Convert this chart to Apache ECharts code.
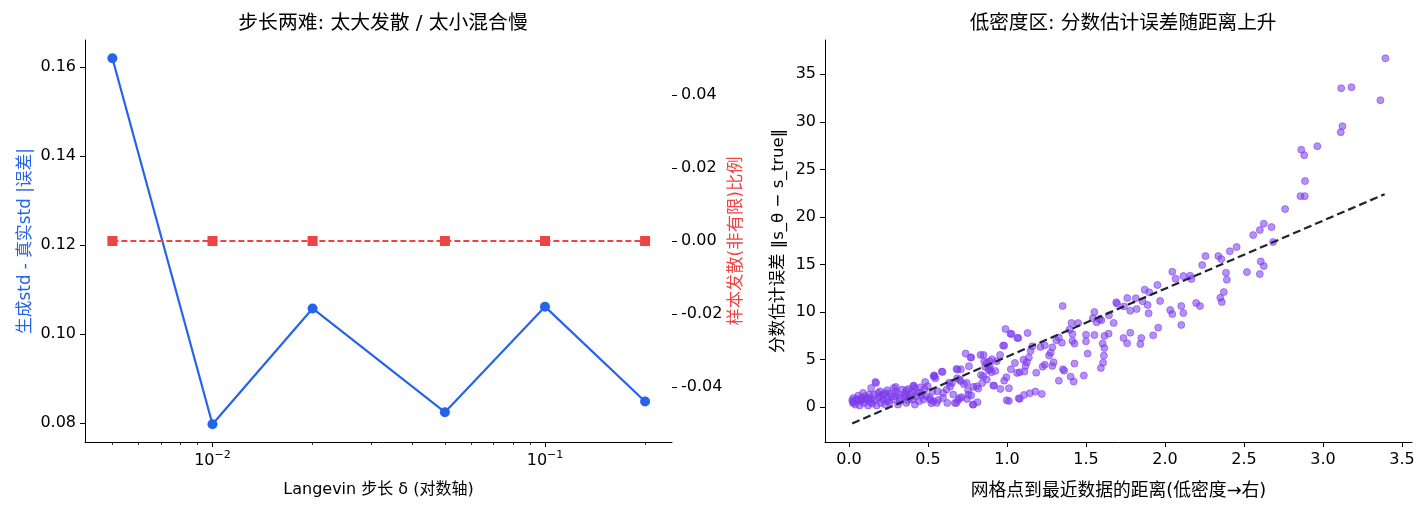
<!DOCTYPE html>
<html>
<head>
<meta charset="utf-8">
<script src="https://cdn.jsdelivr.net/npm/echarts@6/dist/echarts.min.js"></script>
<style>
  html, body { margin: 0; padding: 0; background: #fff; }
  #main { width: 1423px; height: 512px; }
</style>
</head>
<body>
<div id="main"></div>
<script>
var chart = echarts.init(document.getElementById('main'));

// 左图: Langevin 步长
var stepSizes = [0.005, 0.01, 0.02, 0.05, 0.1, 0.2];
var stdError = [0.162, 0.0798, 0.1058, 0.0825, 0.1062, 0.0849];
var divergeRatio = [0, 0, 0, 0, 0, 0];
var leftTicks = [0.08, 0.10, 0.12, 0.14, 0.16];
var rightTicks = [-0.04, -0.02, 0.00, 0.02, 0.04];
var logMajor = [0.01, 0.1];
var logMinor = [0.005, 0.006, 0.007, 0.008, 0.009, 0.02, 0.03, 0.04, 0.05, 0.06, 0.07, 0.08, 0.09, 0.2];

// 右图: 距离 vs 分数估计误差
var scatterX = [
  3.395, 3.115, 3.18, 3.363, 3.123, 3.112, 2.964, 2.862, 2.881, 2.886, 2.857, 2.884, 2.76, 2.625, 2.60, 2.674, 2.558, 2.684,
  2.453, 2.41, 2.256, 2.337, 2.356, 2.235, 2.606, 2.625, 2.518, 2.60, 2.386, 2.391, 2.372, 2.35, 2.359,
  2.046, 2.067, 2.116, 2.159, 2.167, 2.197, 2.221, 2.103, 2.033, 2.046, 2.116, 2.103,
  1.952, 1.871, 1.90, 1.815, 1.858, 1.89, 1.896, 1.969, 1.761, 1.691, 1.74, 1.78, 1.82, 1.957, 1.925, 1.85, 1.844,
  1.737, 1.78, 1.76, 1.675, 1.645, 1.696,
  1.352, 1.553, 1.543, 1.567, 1.597, 1.586, 1.408, 1.45, 1.395, 1.414, 1.50, 1.553, 1.616, 1.643, 1.50, 1.414, 1.427,
  1.605, 1.616, 1.613, 1.608, 1.594, 1.51, 1.427, 1.403, 1.422, 1.486, 1.328, 1.354, 1.362, 1.295, 1.287, 1.225, 1.239,
  1.266, 1.276, 1.287, 1.239, 1.212, 1.312, 1.328, 1.347, 1.22, 1.18, 1.144, 1.107, 1.08, 1.012,
  1.13, 1.072, 1.029, 0.99, 0.982, 1.16, 1.149, 1.138, 1.104, 1.125, 1.117, 1.05, 1.024, 1.064, 1.08, 1.11, 1.185,
  0.996, 0.982, 1.012, 0.958, 0.918, 0.956, 0.905, 0.889, 0.891, 0.883, 0.902, 0.926, 0.851, 0.832, 0.856, 0.862,
  0.835, 0.872, 0.843, 0.818, 0.786, 0.773, 0.738, 0.759, 0.708, 0.687, 0.684, 0.705, 0.727, 0.754, 0.713, 0.746,
  0.783, 0.813, 0.773, 0.67, 0.692, 0.622, 0.595, 0.633, 0.641, 0.651, 0.592, 0.536, 0.539, 0.547, 0.482, 0.56,
  0.528, 0.512, 0.522, 0.533, 0.595, 0.565,
  0.167, 0.14, 0.089, 0.129, 0.197, 0.215, 0.242, 0.283, 0.296, 0.269, 0.337, 0.363, 0.377, 0.409, 0.417, 0.452,
  0.479, 0.436, 0.39, 0.35, 0.404, 0.444, 0.417, 0.363, 0.323, 0.31, 0.242, 0.215, 0.188, 0.162, 0.135, 0.108,
  0.081, 0.054, 0.027, 0.02, 0.04, 0.067, 0.094, 0.121, 0.148, 0.175, 0.202, 0.229, 0.256, 0.283, 0.027, 0.059,
  0.102, 0.156, 0.183, 0.229, 0.256, 0.31, 0.323, 0.291, 0.121, 0.075, 0.025, 0.048, 0.086, 0.14, 0.202, 0.242,
  0.296, 0.498, 0.49, 0.471, 0.385, 0.372, 0.458, 0.425, 0.401, 0.355,
  1.021, 1.065, 0.975, 0.77, 0.68, 0.587, 0.54, 0.913, 0.998, 1.074, 0.171, 0.787,
  0.618, 0.66, 0.70, 0.745, 0.808, 0.85, 0.871, 0.892, 0.935, 0.407, 0.449, 0.365, 0.513, 0.555, 0.68, 0.70, 0.755
];
var scatterY = [
  36.68, 33.53, 33.64, 32.27, 29.54, 28.91, 27.44, 27.06, 26.5, 23.77, 22.19, 22.19, 20.83, 19.29, 18.62, 18.94, 18.1, 17.36,
  16.84, 16.4, 15.89, 15.89, 15.58, 14.95, 15.33, 14.84, 14.21, 14.0, 14.14, 13.41, 12.11, 11.52, 11.06,
  14.25, 13.51, 13.79, 13.83, 13.48, 10.96, 10.64, 10.64, 10.22, 9.8, 9.9, 8.65,
  12.85, 12.36, 12.08, 11.45, 11.13, 10.75, 9.87, 11.17, 11.48, 11.03, 10.6, 10.15, 10.33, 8.37, 7.56, 7.28, 6.65,
  7.28, 7.84, 6.72, 8.86, 9.66, 10.89,
  10.64, 10.01, 9.35, 8.93, 9.14, 9.28, 8.86, 8.86, 8.16, 7.7, 7.63, 7.6, 7.49, 7.74, 6.93, 6.97, 6.69,
  6.69, 6.23, 5.43, 4.69, 4.13, 5.64, 4.59, 3.22, 2.70, 3.33, 2.80, 3.99, 3.85, 4.73, 4.34, 4.27, 4.48,
  5.43, 5.74, 6.3, 6.51, 6.34, 7.04, 7.32, 6.79, 1.4, 1.65, 1.47, 1.30, 0.88, 0.67,
  7.81, 7.28, 7.70, 8.23, 6.48, 6.41, 5.92, 5.22, 5.0, 4.73, 4.34, 4.66, 3.99, 3.61, 3.68, 3.75, 3.64,
  3.15, 2.80, 2.0, 1.93, 2.28, 5.5, 5.04, 4.83, 4.34, 3.92, 3.68, 3.82, 5.5, 5.5, 4.8, 4.24,
  3.4, 2.91, 2.56, 1.96, 2.14, 5.25, 5.64, 4.31, 3.99, 3.96, 3.05, 2.77, 2.42, 1.79, 1.05, 0.88,
  0.28, 0.53, 1.23, 0.46, 0.77, 0.46, 1.51, 2.59, 2.17, 2.56, 3.71, 3.26, 3.36, 3.05, 2.66, 1.68,
  1.65, 0.98, 0.42, 0.63, 0.98, 0.77,
  2.66, 2.03, 1.51, 1.33, 1.68, 1.33, 1.79, 2.03, 1.68, 1.16, 1.86, 1.79, 1.93, 2.28, 2.03, 2.1,
  1.93, 1.51, 1.33, 1.16, 0.81, 0.63, 0.28, 0.46, 0.63, 0.28, 0.63, 0.81, 0.98, 0.74, 0.53, 0.81,
  0.98, 0.74, 0.53, 0.74, 0.28, 0.18, 0.46, 0.18, 0.39, 0.18, 0.46, 0.28, 0.53, 0.81, 0.98, 1.23,
  1.16, 1.33, 1.51, 1.51, 1.44, 1.40, 0.98, 1.16, 0.98, 0.63, 0.46, 0.88, 0.81, 0.88, 1.16, 0.98,
  2.14, 2.21, 1.16, 0.81, 0.98, 0.74, 1.23, 1.16, 1.68, 1.51,
  7.74, 7.29, 6.48, 5.22, 4.03, 3.75, 3.26, 2.28, 0.74, 0.95, 2.56, 0.28,
  1.86, 1.33, 2.91, 2.56, 2.2, 3.26, 4.66, 3.96, 4.83, 2.2, 1.51, 1.16, 0.81, 0.46, 0.46, 0.98, 1.33
];
var trendX = [0.02, 3.39];
var trendY = [-1.7, 22.4];
var scatterXTicks = [0, 0.5, 1, 1.5, 2, 2.5, 3, 3.5];
var scatterYTicks = [0, 5, 10, 15, 20, 25, 30, 35];

var FONT = "'DejaVu Sans', 'Noto Sans CJK SC', sans-serif";
var FS = 16;
var BLUE = '#2563eb';
var RED = '#ef4444';
var PURPLE = 'rgba(124,58,237,0.7)';

function zip(a, b) {
  return a.map(function (v, i) { return [v, b[i]]; });
}

function baseAxis(extra) {
  var ax = {
    axisLine: { show: true, onZero: false, lineStyle: { color: '#000', width: 1 } },
    splitLine: { show: false },
    nameTextStyle: { color: '#000', fontSize: FS, fontFamily: FONT },
    nameLocation: 'middle',
    nameMoveOverlap: false
  };
  return Object.assign(ax, extra);
}

function ticks(values, len) {
  return { show: true, length: len || 4, customValues: values, lineStyle: { color: '#000', width: 1 } };
}

function labels(values, fmt, margin) {
  var l = { customValues: values, color: '#000', fontSize: FS, fontFamily: FONT, margin: margin };
  if (fmt) l.formatter = fmt;
  return l;
}

var option = {
  backgroundColor: '#fff',
  animation: false,
  textStyle: { fontFamily: FONT },
  title: [
    {
      text: '步长两难: 太大发散 / 太小混合慢',
      left: 378, top: 9, textAlign: 'center',
      textStyle: { fontSize: 19.8, fontWeight: 'normal', color: '#000', fontFamily: FONT }
    },
    {
      text: '低密度区: 分数估计误差随距离上升',
      left: 1118, top: 9, textAlign: 'center',
      textStyle: { fontSize: 19.6, fontWeight: 'normal', color: '#000', fontFamily: FONT }
    }
  ],
  grid: [
    { left: 85, right: 751, top: 40, bottom: 70 },
    { left: 825, right: 11, top: 40, bottom: 70 },
    { left: 85, right: 751, top: 40, bottom: 70 }
  ],
  xAxis: [
    baseAxis({
      type: 'log', gridIndex: 0,
      min: Math.pow(10, -2.3834), max: Math.pow(10, -0.618),
      name: 'Langevin 步长 δ (对数轴)', nameGap: 40,
      axisTick: ticks(logMajor, 5),
      axisLabel: {
        customValues: logMajor, margin: 8, color: '#000', fontFamily: FONT,
        formatter: function (v) {
          var e = Math.round(Math.log10(v));
          return '{b|10}{s|−' + (-e) + '}';
        },
        rich: {
          b: { fontSize: FS, lineHeight: 22, fontFamily: FONT, color: '#000' },
          s: { fontSize: 11, lineHeight: 11, verticalAlign: 'top', fontFamily: FONT, color: '#000' }
        }
      }
    }),
    baseAxis({
      type: 'value', gridIndex: 1, min: -0.152, max: 3.563,
      name: '网格点到最近数据的距离(低密度→右)', nameGap: 40,
      nameTextStyle: { color: '#000', fontSize: 17.8, fontFamily: FONT },
      axisTick: ticks(scatterXTicks, 5),
      axisLabel: labels(scatterXTicks, function (v) { return v.toFixed(1); }, 10)
    }),
    {
      type: 'log', gridIndex: 2,
      min: Math.pow(10, -2.3834), max: Math.pow(10, -0.618),
      axisLine: { show: false, onZero: false },
      axisTick: { show: true, length: 3, customValues: logMinor, lineStyle: { color: '#000', width: 0.8 } },
      axisLabel: { show: false },
      splitLine: { show: false }
    }
  ],
  yAxis: [
    baseAxis({
      type: 'value', gridIndex: 0, position: 'left',
      min: 0.0758, max: 0.1661,
      name: '生成std - 真实std |误差|', nameGap: 51,
      nameTextStyle: { color: BLUE, fontSize: 16.8, fontFamily: FONT },
      axisTick: ticks(leftTicks, 5),
      axisLabel: labels(leftTicks, function (v) { return v.toFixed(2); }, 9)
    }),
    baseAxis({
      type: 'value', gridIndex: 0, position: 'right',
      min: -0.055, max: 0.055,
      name: '样本发散(非有限)比例', nameGap: 56,
      nameTextStyle: { color: RED, fontSize: 17.3, fontFamily: FONT },
      axisLine: { show: false, onZero: false },
      axisTick: ticks(rightTicks, 5),
      axisLabel: labels(rightTicks, function (v) { return v.toFixed(2); }, 9)
    }),
    baseAxis({
      type: 'value', gridIndex: 1,
      min: -3.65, max: 38.6,
      name: '分数估计误差 ‖s_θ − s_true‖', nameGap: 38,
      nameTextStyle: { color: '#000', fontSize: 16.6, fontFamily: FONT },
      axisTick: ticks(scatterYTicks, 5),
      axisLabel: labels(scatterYTicks, null, 9)
    }),
    { type: 'value', gridIndex: 2, show: false, min: 0, max: 1 }
  ],
  series: [
    {
      name: 'std误差', type: 'line', xAxisIndex: 0, yAxisIndex: 0,
      data: zip(stepSizes, stdError),
      symbol: 'circle', symbolSize: 10,
      lineStyle: { color: BLUE, width: 2.2 },
      itemStyle: { color: BLUE },
      z: 2
    },
    {
      name: '发散比例', type: 'line', xAxisIndex: 0, yAxisIndex: 1,
      data: zip(stepSizes, divergeRatio),
      symbol: 'rect', symbolSize: 10,
      lineStyle: { color: RED, width: 2, type: [6, 3] },
      itemStyle: { color: RED },
      z: 3
    },
    {
      name: '误差散点', type: 'scatter', xAxisIndex: 1, yAxisIndex: 2,
      data: zip(scatterX, scatterY),
      symbolSize: 7,
      itemStyle: { color: PURPLE, borderColor: PURPLE, borderWidth: 1 },
      z: 2
    },
    {
      name: '趋势', type: 'line', xAxisIndex: 1, yAxisIndex: 2,
      data: zip(trendX, trendY),
      symbol: 'none',
      lineStyle: { color: '#1f2333', width: 2.2, type: [8, 4] },
      z: 3
    }
  ]
};

chart.setOption(option);
</script>
</body>
</html>
